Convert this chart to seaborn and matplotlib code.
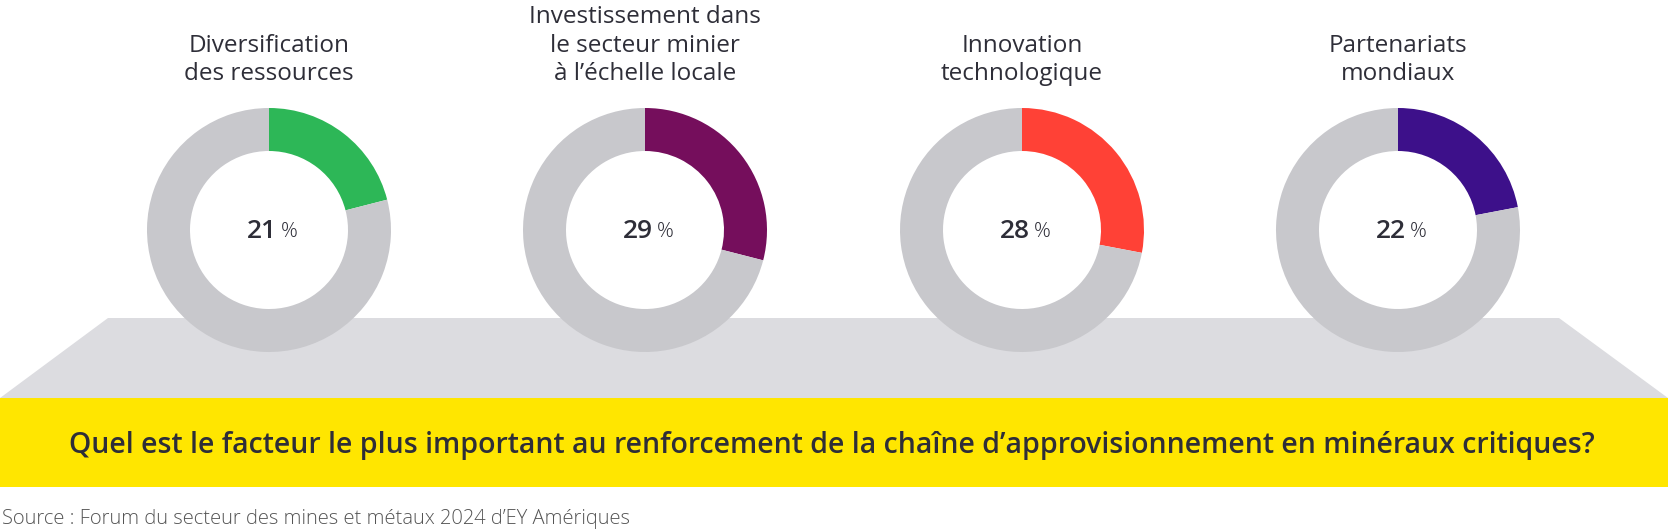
import matplotlib
matplotlib.use("Agg")
import matplotlib.pyplot as plt
import seaborn as sns
from matplotlib.patches import Polygon, Rectangle

sns.set_theme(style="white")
plt.rcParams["font.family"] = ["Open Sans", "DejaVu Sans"]

# data
categories = [
    "Diversification\ndes ressources",
    "Investissement dans\nle secteur minier\nà l’échelle locale",
    "Innovation\ntechnologique",
    "Partenariats\nmondiaux",
]
shares = [21, 29, 28, 22]
question = ("Quel est le facteur le plus important au renforcement de la "
            "chaîne d’approvisionnement en minéraux critiques?")
source = "Source : Forum du secteur des mines et métaux 2024 d’EY Amériques"

colors = sns.color_palette(["#2DB757", "#750E5C", "#FF4136", "#3D108A"])
rest_color = "#C8C8CC"
dark = "#2E2E38"

W, H = 1668, 531
fig = plt.figure(figsize=(W / 100, H / 100), dpi=100)
ax = fig.add_axes([0, 0, 1, 1])


def py(y):
    # pixel row (from top) -> data y
    return H - y


# platform and banner
ax.add_patch(Polygon([(0, py(398)), (108, py(318)), (1559, py(318)), (W, py(398))],
                     closed=True, facecolor="#DCDCE0", edgecolor="none", zorder=1))
ax.add_patch(Rectangle((0, py(487)), W, 89, facecolor="#FFE600",
                       edgecolor="none", zorder=1))

centers_x = [269, 645, 1022, 1398]
cy = py(230)
r_out, r_in = 122, 79

for cx, label, pct, col in zip(centers_x, categories, shares, colors):
    wedges, _ = ax.pie([pct, 100 - pct], colors=[col, rest_color], startangle=90,
                       counterclock=False, center=(cx, cy), radius=r_out,
                       wedgeprops=dict(width=r_out - r_in, linewidth=0),
                       frame=True)
    for w in wedges:
        w.set_zorder(2)
    ax.text(cx + 8, py(232), f"{pct}", ha="right", va="center",
            fontsize=19, fontweight="semibold", color=dark, zorder=3)
    ax.text(cx + 12, py(232), "%", ha="left", va="center",
            fontsize=15, fontweight="light", color=dark, zorder=3)
    ax.text(cx, py(86), label, ha="center", va="bottom", fontsize=17.5,
            linespacing=1.25, color=dark)

ax.set_xlim(0, W)
ax.set_ylim(0, H)
ax.axis("off")

ax.text(W / 2 - 2, py(445), question, ha="center", va="center", fontsize=20.5,
        fontweight="semibold", color=dark, zorder=3)
ax.text(2, py(519), source, ha="left", va="center", fontsize=14.5,
        fontweight="light", color="#555555")

fig.savefig("out.png", dpi=100)
